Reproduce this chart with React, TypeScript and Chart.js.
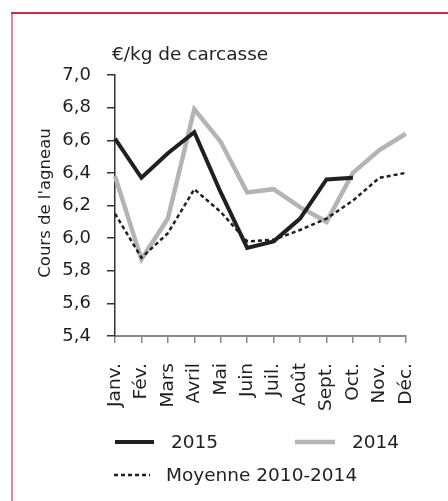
import React, { useEffect, useRef } from "react";
import { Chart, registerables } from "chart.js";

Chart.register(...registerables);

const months = ["Janv.", "Fév.", "Mars", "Avril", "Mai", "Juin", "Juil.", "Août", "Sept.", "Oct.", "Nov.", "Déc."];
const values2015 = [6.61, 6.37, 6.52, 6.65, 6.28, 5.94, 5.98, 6.12, 6.36, 6.37, null, null];
const values2014 = [6.38, 5.87, 6.12, 6.79, 6.59, 6.28, 6.30, 6.19, 6.10, 6.40, 6.54, 6.64];
const valuesAvg = [6.15, 5.88, 6.03, 6.30, 6.16, 5.98, 5.99, 6.05, 6.12, 6.23, 6.37, 6.40];
const yTicks = [5.4, 5.6, 5.8, 6.0, 6.2, 6.4, 6.6, 6.8, 7.0];

const FONT = "'DejaVu Sans', sans-serif";
const TEXT = "#231f20";
const BLACK = "#231f20";
const GREY = "#b4b4b4";

const decor = {
  id: "decor",
  beforeDraw(chart: any) {
    const ctx = chart.ctx;
    ctx.save();
    ctx.fillStyle = "#ffffff";
    ctx.fillRect(0, 0, chart.width, chart.height);
    ctx.restore();
  },
  afterDraw(chart: any) {
    const ctx = chart.ctx;
    ctx.save();
    // frame
    ctx.strokeStyle = "#e8899a";
    ctx.lineWidth = 2;
    ctx.beginPath();
    ctx.moveTo(12, 13);
    ctx.lineTo(12, chart.height);
    ctx.stroke();
    ctx.strokeStyle = "#d42a3f";
    ctx.beginPath();
    ctx.moveTo(11, 13);
    ctx.lineTo(chart.width, 13);
    ctx.stroke();

    // unit title
    ctx.fillStyle = TEXT;
    ctx.font = `18.5px ${FONT}`;
    ctx.textAlign = "left";
    ctx.textBaseline = "alphabetic";
    ctx.fillText("€/kg de carcasse", 112, 60);

    // y axis title
    ctx.save();
    ctx.translate(50, 203);
    ctx.rotate(-Math.PI / 2);
    ctx.font = `16.5px ${FONT}`;
    ctx.textAlign = "center";
    ctx.fillText("Cours de l'agneau", 0, 0);
    ctx.restore();

    // legend
    const ds = chart.data.datasets;
    const items = [
      { d: ds[0], x: 115, y: 442, w: 39, tx: 171 },
      { d: ds[2], x: 295, y: 442, w: 40, tx: 352 },
      { d: ds[1], x: 114, y: 475, w: 36, tx: 166 },
    ];
    ctx.font = `18.5px ${FONT}`;
    ctx.textBaseline = "middle";
    ctx.textAlign = "left";
    for (const it of items) {
      ctx.save();
      ctx.strokeStyle = it.d.borderColor;
      ctx.lineWidth = it.d.borderWidth;
      ctx.setLineDash(it.d.borderDash || []);
      ctx.beginPath();
      ctx.moveTo(it.x, it.y);
      ctx.lineTo(it.x + it.w, it.y);
      ctx.stroke();
      ctx.restore();
      ctx.fillStyle = TEXT;
      ctx.fillText(it.d.label, it.tx, it.y + 1);
    }
    ctx.restore();
  },
};

export default function App() {
  const ref = useRef<HTMLCanvasElement>(null);
  useEffect(() => {
    const chart = new Chart(ref.current as HTMLCanvasElement, {
      type: "line",
      data: {
        labels: months,
        datasets: [
          { label: "2015", data: values2015, borderColor: BLACK, borderWidth: 4, pointRadius: 0, tension: 0, spanGaps: false },
          { label: "Moyenne 2010-2014", data: valuesAvg, borderColor: BLACK, borderWidth: 2.5, borderDash: [4, 3], pointRadius: 0, tension: 0 },
          { label: "2014", data: values2014, borderColor: GREY, borderWidth: 4.5, pointRadius: 0, tension: 0 },
        ],
      },
      options: {
        responsive: false,
        animation: false,
        layout: { padding: { left: 0, right: 40, top: 75, bottom: 0 } },
        plugins: { legend: { display: false }, tooltip: { enabled: false }, title: { display: false } },
        scales: {
          x: {
            type: "category",
            offset: false,
            grid: { display: true, drawOnChartArea: false, drawTicks: true, tickLength: 7, color: "#8a8a8a", lineWidth: 1.5 },
            border: { display: true, color: "#8a8a8a", width: 2 },
            ticks: { autoSkip: false, minRotation: 90, maxRotation: 90, padding: 20, color: TEXT, font: { family: FONT, size: 18.5 } },
            afterFit: (s: any) => { s.height = 165; },
          },
          y: {
            type: "linear",
            min: 5.4,
            max: 7.0,
            afterBuildTicks: (s: any) => { s.ticks = yTicks.map((v) => ({ value: v })); },
            grid: { display: true, drawOnChartArea: false, drawTicks: true, tickLength: 8, color: "#333333", lineWidth: 1.5 },
            border: { display: true, color: "#333333", width: 1.5 },
            ticks: {
              padding: 16,
              color: TEXT,
              font: { family: FONT, size: 18 },
              callback: (v: any) => Number(v).toFixed(1).replace(".", ","),
            },
            afterFit: (s: any) => { s.width = 115; },
          },
        },
      },
      plugins: [decor],
    });
    return () => chart.destroy();
  }, []);
  return (
    <div style={{ position: "fixed", left: 0, top: 0, width: 448, height: 501 }}>
      <canvas ref={ref} width={448} height={501} style={{ display: "block" }} />
    </div>
  );
}
